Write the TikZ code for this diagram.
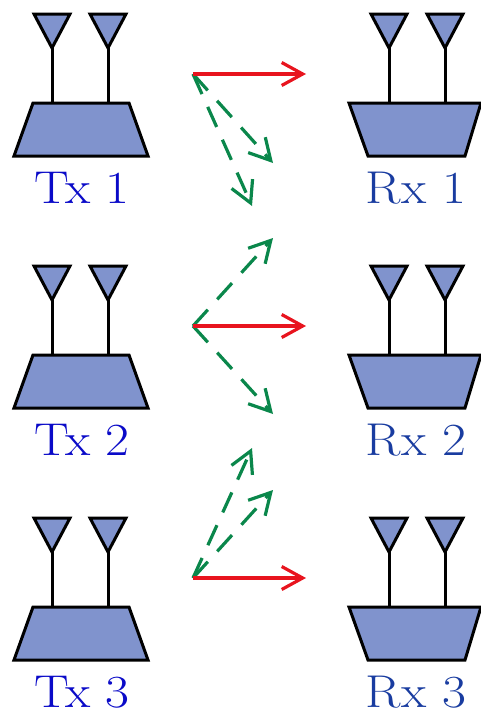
\documentclass[tikz,border=0pt]{standalone}
\usetikzlibrary{arrows.meta}
\definecolor{fillblue}{RGB}{128,147,205}
\definecolor{txblue}{RGB}{10,10,200}
\definecolor{rxblue}{RGB}{25,60,160}
\definecolor{arrred}{RGB}{232,20,30}
\definecolor{arrgreen}{RGB}{10,135,75}
\tikzset{
  x=1pt,y=-1pt,
  body/.style={draw=black,fill=fillblue,line width=3pt,line join=miter},
  stem/.style={draw=black,line width=3pt},
  lbl/.style={font=\fontsize{46}{46}\selectfont,inner sep=0pt,anchor=base,xscale=1.13},
  direct/.style={draw=arrred,line width=3.2pt,-{Straight Barb[length=21pt,width=23pt,line width=3.2pt]}},
  cross/.style={draw=arrgreen,line width=3.2pt,dash pattern=on 22pt off 14pt,-{Straight Barb[length=21pt,width=23pt,line width=3.2pt]}},
}
\begin{document}
\begin{tikzpicture}
\useasboundingbox (0,0) rectangle (481,712);
\foreach \r/\n in {0/1,252/2,504/3}{
  \begin{scope}[yshift=-\r pt]
    % transmitter
    \draw[stem] (52,48) -- (52,103);
    \draw[stem] (108,48) -- (108,103);
    \draw[body] (34,14) -- (70,14) -- (52,48) -- cycle;
    \draw[body] (90,14) -- (126,14) -- (108,48) -- cycle;
    \draw[body] (33,103) -- (129,103) -- (148,156) -- (14,156) -- cycle;
    \node[lbl,text=txblue] (tx\n) at (82,203) {Tx \n};
    % receiver
    \draw[stem] (389,48) -- (389,103);
    \draw[stem] (445,48) -- (445,103);
    \draw[body] (371,14) -- (407,14) -- (389,48) -- cycle;
    \draw[body] (427,14) -- (463,14) -- (445,48) -- cycle;
    \draw[body] (349,103) -- (481,103) -- (465,156) -- (368,156) -- cycle;
    \node[lbl,text=rxblue] (rx\n) at (416,203) {Rx \n};
  \end{scope}
}
\coordinate (s1) at (193,74);
\coordinate (s2) at (193,326);
\coordinate (s3) at (193,578);
\coordinate (e1) at (306,74);
\coordinate (e2) at (306,326);
\coordinate (e3) at (306,578);
\coordinate (a1) at (273,163);
\coordinate (b1) at (252,206);
\coordinate (a2) at (273,238);
\coordinate (b2) at (273,414);
\coordinate (a3) at (273,490);
\coordinate (b3) at (252,448);
\foreach \i in {1,2,3}{
  \draw[cross] (s\i) -- (a\i);
  \draw[cross] (s\i) -- (b\i);
  \draw[direct] (s\i) -- (e\i);
}
\end{tikzpicture}
\end{document}
